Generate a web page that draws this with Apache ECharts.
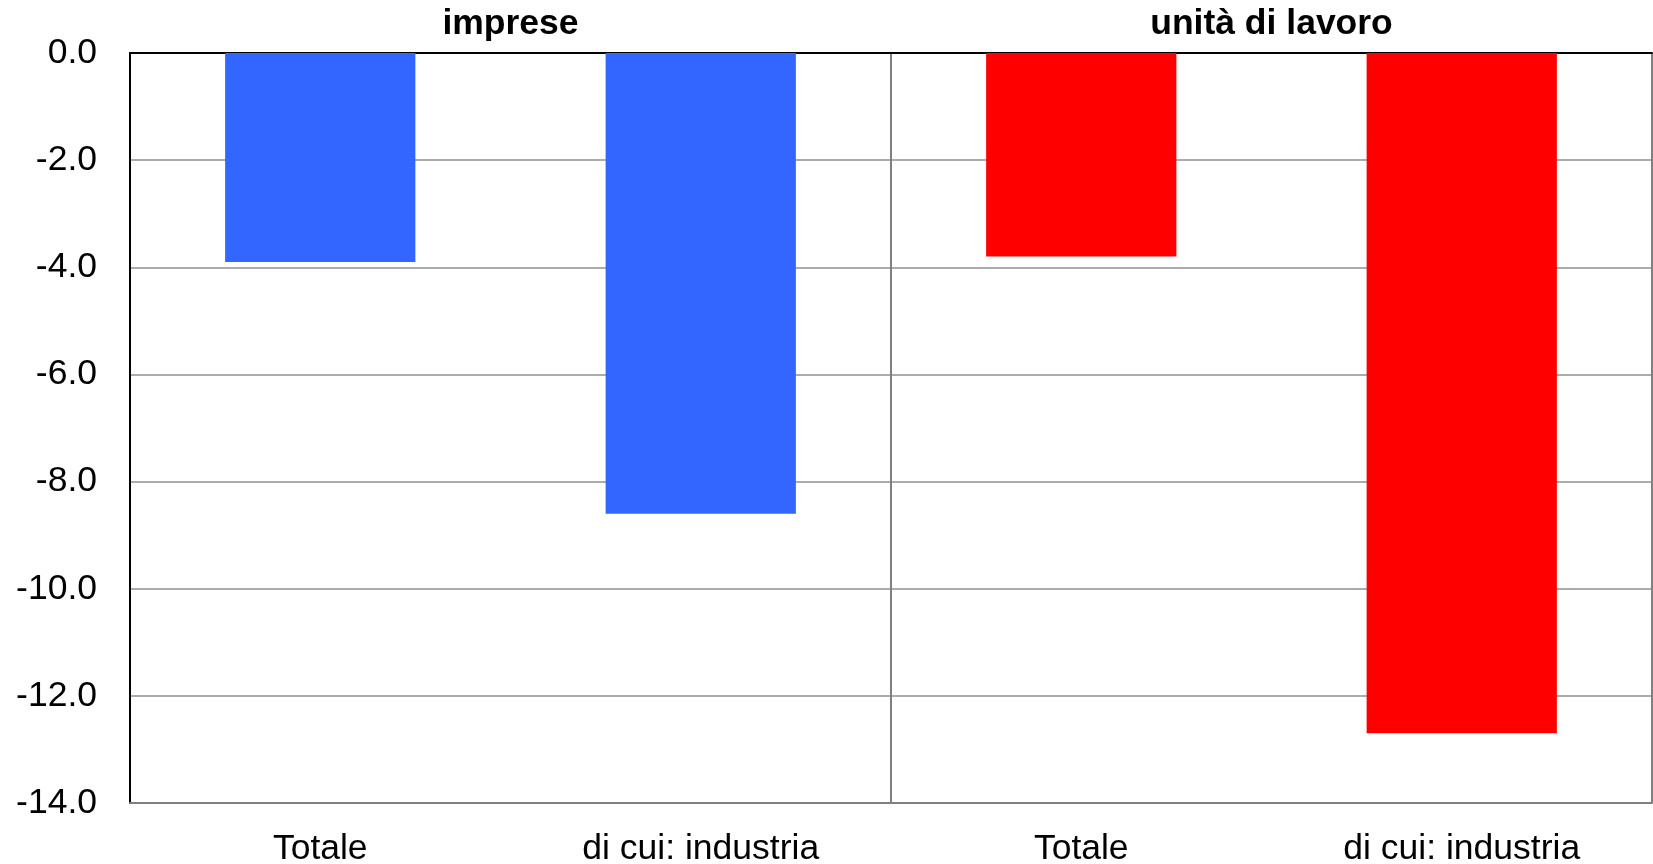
<!DOCTYPE html>
<html>
<head>
<meta charset="utf-8">
<script src="https://cdn.jsdelivr.net/npm/echarts@6/dist/echarts.min.js"></script>
<style>
html,body{margin:0;padding:0;background:#fff;}
#c{width:1653px;height:864px;}
</style>
</head>
<body>
<div id="c"></div>
<script>
var groups = ['imprese', 'unità di lavoro'];
var categories = ['Totale', 'di cui: industria', 'Totale', 'di cui: industria'];
var impreseValues = [-3.9, -8.6];
var unitaValues = [-3.8, -12.7];
var yTicks = [0, -2, -4, -6, -8, -10, -12, -14];

var BLUE = '#3366FF', RED = '#FF0000';
var barData = [];
impreseValues.forEach(function (v) { barData.push({ value: v, itemStyle: { color: BLUE } }); });
unitaValues.forEach(function (v) { barData.push({ value: v, itemStyle: { color: RED } }); });

var chart = echarts.init(document.getElementById('c'), null, { renderer: 'canvas' });
var FONT = 'Liberation Sans, Arial, sans-serif';
chart.setOption({
  animation: false,
  backgroundColor: '#fff',
  textStyle: { fontFamily: FONT },
  grid: { left: 130, right: 1, top: 53, bottom: 61, containLabel: false, outerBoundsMode: 'none' },
  xAxis: [
    {
      type: 'category',
      data: categories,
      position: 'bottom',
      axisLine: { show: true, onZero: false, lineStyle: { color: '#808080', width: 2 } },
      axisTick: { show: false },
      axisLabel: { color: '#000', fontSize: 35.5, fontFamily: FONT, margin: 28, interval: 0 },
      splitLine: { show: false }
    },
    {
      type: 'category',
      data: groups,
      position: 'top',
      axisLine: { show: true, onZero: false, lineStyle: { color: '#000', width: 2 } },
      axisTick: { show: false },
      axisLabel: { color: '#000', fontSize: 35.5, fontWeight: 'bold', fontFamily: FONT, margin: 11, interval: 0 },
      splitLine: { show: true, interval: 0, lineStyle: { color: '#808080', width: 2 } }
    }
  ],
  yAxis: {
    type: 'value',
    min: yTicks[yTicks.length - 1],
    max: yTicks[0],
    interval: 2,
    axisLine: { show: true, lineStyle: { color: '#000', width: 2 } },
    axisTick: { show: false },
    axisLabel: {
      color: '#000', fontSize: 35.5, fontFamily: FONT, margin: 33,
      formatter: function (v) { return v.toFixed(1); }
    },
    splitLine: { show: true, lineStyle: { color: '#909090', width: 1.5 } }
  },
  series: [
    {
      type: 'bar',
      xAxisIndex: 0,
      data: barData,
      barWidth: '50%'
    }
  ]
});
</script>
</body>
</html>
